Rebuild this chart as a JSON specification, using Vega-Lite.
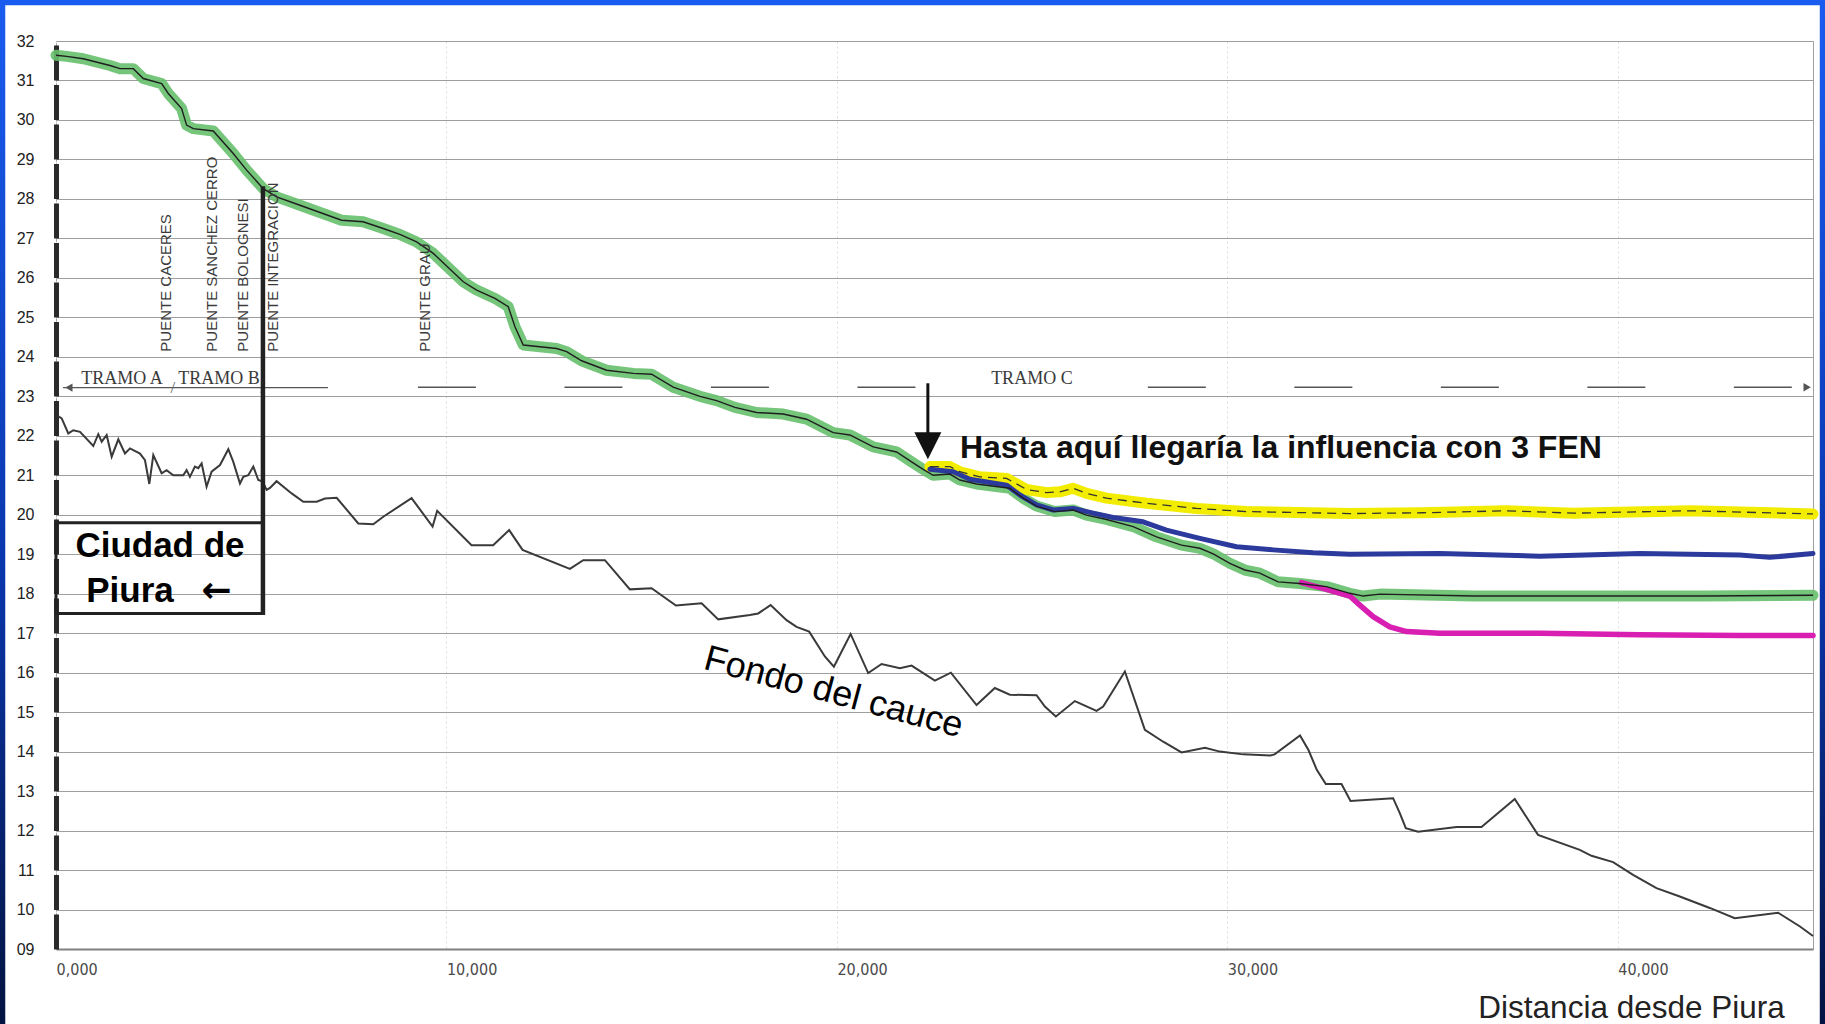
{
  "$schema": "https://vega.github.io/schema/vega-lite/v6.json",
  "width": 1757,
  "height": 908,
  "autosize": {"type": "none"},
  "padding": {"left": 56, "top": 41, "right": 12, "bottom": 75},
  "background": "white",
  "config": {
    "view": {"stroke": "#a0a0a0", "strokeWidth": 1},
    "font": "Liberation Sans"
  },
  "datasets": {
    "cauce": [
      {"x": 50, "y": 22.5}, {"x": 146, "y": 22.44}, {"x": 315, "y": 22.06}, {"x": 443, "y": 22.14},
      {"x": 615, "y": 22.1}, {"x": 955, "y": 21.74}, {"x": 1083, "y": 22.04}, {"x": 1170, "y": 21.85},
      {"x": 1298, "y": 22.02}, {"x": 1426, "y": 21.47}, {"x": 1596, "y": 21.91}, {"x": 1767, "y": 21.55},
      {"x": 1895, "y": 21.68}, {"x": 2151, "y": 21.55}, {"x": 2279, "y": 21.38}, {"x": 2390, "y": 20.78},
      {"x": 2492, "y": 21.51}, {"x": 2705, "y": 21.05}, {"x": 2833, "y": 21.13}, {"x": 3004, "y": 21.0},
      {"x": 3260, "y": 21.0}, {"x": 3345, "y": 21.13}, {"x": 3430, "y": 20.96}, {"x": 3558, "y": 21.22},
      {"x": 3644, "y": 21.18}, {"x": 3730, "y": 21.3}, {"x": 3857, "y": 20.71}, {"x": 3985, "y": 21.09},
      {"x": 4200, "y": 21.26}, {"x": 4413, "y": 21.66}, {"x": 4541, "y": 21.34}, {"x": 4712, "y": 20.79},
      {"x": 4797, "y": 20.96}, {"x": 4925, "y": 21.0}, {"x": 5053, "y": 21.22}, {"x": 5181, "y": 20.88},
      {"x": 5292, "y": 20.84}, {"x": 5395, "y": 20.63}, {"x": 5480, "y": 20.68}, {"x": 5650, "y": 20.85},
      {"x": 6036, "y": 20.54}, {"x": 6334, "y": 20.33}, {"x": 6676, "y": 20.33}, {"x": 6889, "y": 20.41},
      {"x": 7188, "y": 20.43}, {"x": 7742, "y": 19.78}, {"x": 8126, "y": 19.76}, {"x": 8382, "y": 19.95},
      {"x": 9107, "y": 20.42}, {"x": 9645, "y": 19.7}, {"x": 9763, "y": 20.1}, {"x": 10643, "y": 19.23},
      {"x": 11196, "y": 19.23}, {"x": 11606, "y": 19.61}, {"x": 11949, "y": 19.11}, {"x": 13162, "y": 18.63},
      {"x": 13503, "y": 18.85}, {"x": 14059, "y": 18.85}, {"x": 14699, "y": 18.11}, {"x": 15254, "y": 18.14},
      {"x": 15877, "y": 17.7}, {"x": 16535, "y": 17.76}, {"x": 16961, "y": 17.35}, {"x": 17772, "y": 17.46},
      {"x": 17985, "y": 17.5}, {"x": 18302, "y": 17.71}, {"x": 18711, "y": 17.33}, {"x": 18967, "y": 17.16},
      {"x": 19290, "y": 17.04}, {"x": 19692, "y": 16.41}, {"x": 19923, "y": 16.15}, {"x": 20351, "y": 16.98},
      {"x": 20802, "y": 15.99}, {"x": 21144, "y": 16.22}, {"x": 21613, "y": 16.11}, {"x": 21913, "y": 16.18},
      {"x": 22510, "y": 15.8}, {"x": 22919, "y": 16.0}, {"x": 23577, "y": 15.18}, {"x": 24045, "y": 15.61},
      {"x": 24430, "y": 15.44}, {"x": 25113, "y": 15.43}, {"x": 25327, "y": 15.14}, {"x": 25608, "y": 14.89},
      {"x": 26095, "y": 15.28}, {"x": 26650, "y": 15.03}, {"x": 26820, "y": 15.14}, {"x": 27376, "y": 16.03},
      {"x": 27888, "y": 14.55}, {"x": 28357, "y": 14.25}, {"x": 28827, "y": 13.98}, {"x": 29427, "y": 14.1},
      {"x": 29811, "y": 14.0}, {"x": 30405, "y": 13.93}, {"x": 31101, "y": 13.9}, {"x": 31210, "y": 13.93},
      {"x": 31862, "y": 14.41}, {"x": 32078, "y": 14.04}, {"x": 32291, "y": 13.54}, {"x": 32522, "y": 13.18},
      {"x": 32924, "y": 13.18}, {"x": 33155, "y": 12.75}, {"x": 34246, "y": 12.82}, {"x": 34417, "y": 12.44},
      {"x": 34571, "y": 12.06}, {"x": 34886, "y": 11.97}, {"x": 35869, "y": 12.09}, {"x": 36509, "y": 12.09},
      {"x": 37362, "y": 12.8}, {"x": 37958, "y": 11.89}, {"x": 39027, "y": 11.51}, {"x": 39327, "y": 11.36},
      {"x": 39880, "y": 11.2}, {"x": 40392, "y": 10.88}, {"x": 40991, "y": 10.54}, {"x": 41588, "y": 10.33},
      {"x": 42356, "y": 10.04}, {"x": 42996, "y": 9.78}, {"x": 44105, "y": 9.92}, {"x": 44667, "y": 9.57},
      {"x": 45000, "y": 9.33}
    ],
    "verde": [
      {"x": 0, "y": 31.64}, {"x": 273, "y": 31.61}, {"x": 700, "y": 31.55}, {"x": 1383, "y": 31.38},
      {"x": 1639, "y": 31.3}, {"x": 1980, "y": 31.3}, {"x": 2236, "y": 31.05}, {"x": 2706, "y": 30.92},
      {"x": 2876, "y": 30.67}, {"x": 3217, "y": 30.29}, {"x": 3345, "y": 29.87}, {"x": 3516, "y": 29.78},
      {"x": 4028, "y": 29.72}, {"x": 4540, "y": 29.15}, {"x": 4882, "y": 28.73}, {"x": 5308, "y": 28.26},
      {"x": 5650, "y": 28.05}, {"x": 6248, "y": 27.84}, {"x": 7315, "y": 27.46}, {"x": 7867, "y": 27.42},
      {"x": 8380, "y": 27.25}, {"x": 8809, "y": 27.1}, {"x": 9237, "y": 26.91}, {"x": 9663, "y": 26.62},
      {"x": 10431, "y": 25.9}, {"x": 10773, "y": 25.69}, {"x": 11242, "y": 25.48}, {"x": 11583, "y": 25.27},
      {"x": 11755, "y": 24.76}, {"x": 11967, "y": 24.3}, {"x": 12822, "y": 24.21}, {"x": 13078, "y": 24.13},
      {"x": 13462, "y": 23.9}, {"x": 14102, "y": 23.66}, {"x": 14785, "y": 23.58}, {"x": 15254, "y": 23.56},
      {"x": 15808, "y": 23.23}, {"x": 16492, "y": 23.0}, {"x": 16919, "y": 22.89}, {"x": 17388, "y": 22.72},
      {"x": 17943, "y": 22.59}, {"x": 18625, "y": 22.55}, {"x": 19224, "y": 22.42}, {"x": 19906, "y": 22.08},
      {"x": 20333, "y": 22.02}, {"x": 20931, "y": 21.72}, {"x": 21528, "y": 21.59}, {"x": 21913, "y": 21.34},
      {"x": 22210, "y": 21.15}, {"x": 22466, "y": 21.0}, {"x": 22893, "y": 21.03}, {"x": 23150, "y": 20.88},
      {"x": 23577, "y": 20.78}, {"x": 24430, "y": 20.67}, {"x": 24771, "y": 20.42}, {"x": 25113, "y": 20.22},
      {"x": 25582, "y": 20.08}, {"x": 26050, "y": 20.12}, {"x": 26394, "y": 19.99}, {"x": 26906, "y": 19.88},
      {"x": 27588, "y": 19.7}, {"x": 28186, "y": 19.44}, {"x": 28826, "y": 19.23}, {"x": 29296, "y": 19.15},
      {"x": 29638, "y": 19.01}, {"x": 30064, "y": 18.77}, {"x": 30448, "y": 18.6}, {"x": 30832, "y": 18.52},
      {"x": 31301, "y": 18.3}, {"x": 31857, "y": 18.26}, {"x": 32540, "y": 18.18}, {"x": 33137, "y": 18.01},
      {"x": 33478, "y": 17.94}, {"x": 33905, "y": 17.99}, {"x": 36295, "y": 17.94}, {"x": 39711, "y": 17.94},
      {"x": 42272, "y": 17.94}, {"x": 45000, "y": 17.96}
    ],
    "amarillo": [
      {"x": 22381, "y": 21.22}, {"x": 22893, "y": 21.22}, {"x": 23150, "y": 21.09}, {"x": 23662, "y": 20.96},
      {"x": 24345, "y": 20.92}, {"x": 24857, "y": 20.64}, {"x": 25369, "y": 20.56}, {"x": 25710, "y": 20.58},
      {"x": 26050, "y": 20.67}, {"x": 26394, "y": 20.54}, {"x": 26906, "y": 20.42}, {"x": 27930, "y": 20.29},
      {"x": 29210, "y": 20.16}, {"x": 30490, "y": 20.08}, {"x": 33137, "y": 20.03}, {"x": 35000, "y": 20.05},
      {"x": 37149, "y": 20.1}, {"x": 38856, "y": 20.04}, {"x": 41852, "y": 20.1}, {"x": 45000, "y": 20.02}
    ],
    "azul": [
      {"x": 22381, "y": 21.15}, {"x": 22978, "y": 21.09}, {"x": 23406, "y": 20.9}, {"x": 24345, "y": 20.75},
      {"x": 24686, "y": 20.5}, {"x": 25113, "y": 20.25}, {"x": 25540, "y": 20.12}, {"x": 26050, "y": 20.16},
      {"x": 26562, "y": 20.04}, {"x": 27074, "y": 19.93}, {"x": 27843, "y": 19.82}, {"x": 28441, "y": 19.61},
      {"x": 29296, "y": 19.4}, {"x": 30235, "y": 19.19}, {"x": 31173, "y": 19.11}, {"x": 32198, "y": 19.04},
      {"x": 33137, "y": 19.0}, {"x": 35441, "y": 19.02}, {"x": 38002, "y": 18.95}, {"x": 40563, "y": 19.02},
      {"x": 43124, "y": 18.98}, {"x": 43892, "y": 18.92}, {"x": 45000, "y": 19.02}
    ],
    "magenta": [
      {"x": 31900, "y": 18.28}, {"x": 32540, "y": 18.11}, {"x": 33137, "y": 17.94}, {"x": 33393, "y": 17.71},
      {"x": 33734, "y": 17.42}, {"x": 34161, "y": 17.16}, {"x": 34588, "y": 17.04}, {"x": 35441, "y": 17.0},
      {"x": 38002, "y": 17.0}, {"x": 40563, "y": 16.96}, {"x": 43124, "y": 16.94}, {"x": 45000, "y": 16.94}
    ],
    "puentes": [
      {"puente": "PUENTE CACERES", "x": 2809},
      {"puente": "PUENTE SANCHEZ CERRO", "x": 3987},
      {"puente": "PUENTE BOLOGNESI", "x": 4780},
      {"puente": "PUENTE INTEGRACION", "x": 5565},
      {"puente": "PUENTE GRAU", "x": 9450}
    ],
    "tramos": [
      {"tramo": "TRAMO A", "x": 1690},
      {"tramo": "TRAMO B", "x": 4174},
      {"tramo": "TRAMO C", "x": 24994}
    ]
  },
  "layer": [
    {
      "data": {"name": "cauce"},
      "mark": {"type": "line", "color": "#3a3a3a", "strokeWidth": 2},
      "encoding": {
        "x": {
          "field": "x", "type": "quantitative", "title": null,
          "scale": {"domain": [0, 45000], "nice": false, "zero": false},
          "axis": {
            "title": null,
            "values": [0, 10000, 20000, 30000, 40000],
            "tickCount": 60,
            "labelExpr": "datum.value === 0 ? '0,000' : format(datum.value, ',')",
            "labelAlign": "left", "labelFlush": false, "labelOverlap": false, "labelPadding": 12,
            "labelFontSize": 16, "labelFont": "DejaVu Sans Condensed, Liberation Sans, sans-serif", "labelColor": "#4a4a4a",
            "ticks": false, "tickSize": 0,
            "domainColor": "#808080", "domainWidth": 2,
            "grid": true, "gridColor": "#dcdcdc", "gridDash": [2, 3], "gridWidth": 1
          }
        },
        "y": {
          "field": "y", "type": "quantitative", "title": null,
          "scale": {"domain": [9, 32], "nice": false, "zero": false},
          "axis": {
            "title": null,
            "values": [9, 10, 11, 12, 13, 14, 15, 16, 17, 18, 19, 20, 21, 22, 23, 24, 25, 26, 27, 28, 29, 30, 31, 32],
            "tickCount": 60,
            "labelExpr": "datum.value < 10 ? '0' + datum.value : '' + datum.value",
            "labelOverlap": false, "labelFlush": false,
            "labelFontSize": 16, "labelFont": "Liberation Sans", "labelColor": "#222222", "labelPadding": 22,
            "ticks": false, "tickSize": 0,
            "domainColor": "#2a2a2a", "domainWidth": 5, "domainDash": [35, 4.5],
            "grid": true, "gridColor": "#9e9e9e", "gridWidth": 1.2
          }
        }
      }
    },
    {
      "data": {"name": "verde"},
      "mark": {"type": "line", "color": "#66bf6c", "opacity": 0.9, "strokeWidth": 11, "strokeCap": "round", "strokeJoin": "round"},
      "encoding": {
        "x": {"field": "x", "type": "quantitative", "title": null},
        "y": {"field": "y", "type": "quantitative", "title": null}
      }
    },
    {
      "data": {"name": "amarillo"},
      "mark": {"type": "line", "color": "#f2ec00", "strokeWidth": 11, "strokeCap": "round", "strokeJoin": "round"},
      "encoding": {
        "x": {"field": "x", "type": "quantitative", "title": null},
        "y": {"field": "y", "type": "quantitative", "title": null}
      }
    },
    {
      "data": {"name": "azul"},
      "mark": {"type": "line", "color": "#2b3a9c", "strokeWidth": 5, "strokeCap": "round", "strokeJoin": "round"},
      "encoding": {
        "x": {"field": "x", "type": "quantitative", "title": null},
        "y": {"field": "y", "type": "quantitative", "title": null}
      }
    },
    {
      "data": {"name": "magenta"},
      "mark": {"type": "line", "color": "#d81fb2", "strokeWidth": 5.5, "strokeCap": "round", "strokeJoin": "round"},
      "encoding": {
        "x": {"field": "x", "type": "quantitative", "title": null},
        "y": {"field": "y", "type": "quantitative", "title": null}
      }
    },
    {
      "data": {"name": "verde"},
      "mark": {"type": "line", "color": "#1e1e1e", "strokeWidth": 1.4},
      "encoding": {
        "x": {"field": "x", "type": "quantitative", "title": null},
        "y": {"field": "y", "type": "quantitative", "title": null}
      }
    },
    {
      "data": {"name": "amarillo"},
      "mark": {"type": "line", "color": "#333333", "strokeWidth": 1.3, "strokeDash": [9, 6]},
      "encoding": {
        "x": {"field": "x", "type": "quantitative", "title": null},
        "y": {"field": "y", "type": "quantitative", "title": null}
      }
    },
    {
      "data": {"name": "puentes"},
      "mark": {"type": "text", "angle": 270, "align": "left", "baseline": "middle", "fontSize": 15, "color": "#3a3a3a"},
      "encoding": {
        "x": {"field": "x", "type": "quantitative", "title": null},
        "y": {"datum": 24.13, "type": "quantitative"},
        "text": {"field": "puente"}
      }
    },
    {
      "data": {"name": "tramos"},
      "mark": {"type": "text", "align": "center", "baseline": "alphabetic", "font": "Liberation Serif", "fontSize": 18, "color": "#3a3a3a"},
      "encoding": {
        "x": {"field": "x", "type": "quantitative", "title": null},
        "y": {"datum": 23.3, "type": "quantitative"},
        "text": {"field": "tramo"}
      }
    },
    {
      "data": {"values": [{}]},
      "mark": {"type": "rule", "color": "#555555", "strokeWidth": 1.4},
      "encoding": {
        "x": {"datum": 180, "type": "quantitative"},
        "x2": {"datum": 6965},
        "y": {"datum": 23.22, "type": "quantitative"}
      }
    },
    {
      "data": {"values": [{}]},
      "mark": {"type": "point", "shape": "triangle-left", "filled": true, "size": 70, "color": "#555555", "opacity": 1},
      "encoding": {
        "x": {"datum": 330, "type": "quantitative"},
        "y": {"datum": 23.22, "type": "quantitative"}
      }
    },
    {
      "data": {"values": [{"x": 2996}, {"x": 5300}]},
      "mark": {"type": "text", "align": "center", "baseline": "middle", "font": "Liberation Serif", "fontSize": 17, "color": "#666666", "text": "/"},
      "encoding": {
        "x": {"field": "x", "type": "quantitative", "title": null},
        "y": {"datum": 23.2, "type": "quantitative"}
      }
    },
    {
      "data": {"values": [{}]},
      "mark": {"type": "rule", "color": "#555555", "strokeWidth": 1.5, "strokeDash": [58, 88.5]},
      "encoding": {
        "x": {"datum": 9270, "type": "quantitative"},
        "x2": {"datum": 22023},
        "y": {"datum": 23.23, "type": "quantitative"}
      }
    },
    {
      "data": {"values": [{}]},
      "mark": {"type": "rule", "color": "#555555", "strokeWidth": 1.5, "strokeDash": [58, 88.5]},
      "encoding": {
        "x": {"datum": 27964, "type": "quantitative"},
        "x2": {"datum": 44942},
        "y": {"datum": 23.23, "type": "quantitative"}
      }
    },
    {
      "data": {"values": [{}]},
      "mark": {"type": "point", "shape": "triangle-right", "filled": true, "size": 70, "color": "#555555", "opacity": 1},
      "encoding": {
        "x": {"datum": 44850, "type": "quantitative"},
        "y": {"datum": 23.23, "type": "quantitative"}
      }
    },
    {
      "data": {"values": [{}]},
      "mark": {"type": "rect", "filled": false, "stroke": "#222222", "strokeWidth": 3},
      "encoding": {
        "x": {"datum": 0, "type": "quantitative"},
        "x2": {"datum": 5300},
        "y": {"datum": 17.5, "type": "quantitative"},
        "y2": {"datum": 19.8}
      }
    },
    {
      "data": {"values": [{}]},
      "mark": {"type": "rule", "color": "#222222", "strokeWidth": 4.5},
      "encoding": {
        "x": {"datum": 5300, "type": "quantitative"},
        "y": {"datum": 17.46, "type": "quantitative"},
        "y2": {"datum": 28.32}
      }
    },
    {
      "data": {"values": [{}]},
      "mark": {"type": "text", "align": "center", "baseline": "alphabetic", "fontSize": 35, "fontWeight": "bold", "color": "#000000", "text": "Ciudad de"},
      "encoding": {
        "x": {"datum": 2663, "type": "quantitative"},
        "y": {"datum": 18.94, "type": "quantitative"}
      }
    },
    {
      "data": {"values": [{}]},
      "mark": {"type": "text", "align": "center", "baseline": "alphabetic", "fontSize": 35, "fontWeight": "bold", "color": "#000000", "text": "Piura"},
      "encoding": {
        "x": {"datum": 1895, "type": "quantitative"},
        "y": {"datum": 17.8, "type": "quantitative"}
      }
    },
    {
      "data": {"values": [{}]},
      "mark": {"type": "text", "align": "center", "baseline": "alphabetic", "font": "DejaVu Sans", "fontSize": 36, "fontWeight": "bold", "color": "#000000", "text": "←"},
      "encoding": {
        "x": {"datum": 4115, "type": "quantitative"},
        "y": {"datum": 17.8, "type": "quantitative"}
      }
    },
    {
      "data": {"values": [{}]},
      "mark": {"type": "rule", "color": "#111111", "strokeWidth": 3},
      "encoding": {
        "x": {"datum": 22330, "type": "quantitative"},
        "y": {"datum": 23.33, "type": "quantitative"},
        "y2": {"datum": 21.95}
      }
    },
    {
      "data": {"values": [{}]},
      "mark": {"type": "point", "shape": "M-1,-1L1,-1L0,1Z", "filled": true, "size": 729, "color": "#111111", "opacity": 1},
      "encoding": {
        "x": {"datum": 22330, "type": "quantitative"},
        "y": {"datum": 21.75, "type": "quantitative"}
      }
    },
    {
      "data": {"values": [{}]},
      "mark": {"type": "text", "align": "left", "baseline": "alphabetic", "fontSize": 32, "fontWeight": "bold", "color": "#111111", "text": "Hasta aquí llegaría la influencia con 3 FEN"},
      "encoding": {
        "x": {"datum": 23150, "type": "quantitative"},
        "y": {"datum": 21.43, "type": "quantitative"}
      }
    },
    {
      "data": {"values": [{}]},
      "mark": {"type": "text", "align": "center", "baseline": "alphabetic", "fontSize": 36, "angle": 15, "color": "#000000", "text": "Fondo del cauce"},
      "encoding": {
        "x": {"datum": 19846, "type": "quantitative"},
        "y": {"datum": 15.23, "type": "quantitative"}
      }
    },
    {
      "data": {"values": [{}]},
      "mark": {"type": "text", "align": "right", "baseline": "alphabetic", "fontSize": 31.5, "color": "#222222", "text": "Distancia desde Piura"},
      "encoding": {
        "x": {"datum": 44277, "type": "quantitative"},
        "y": {"datum": 7.26, "type": "quantitative"}
      }
    },
    {
      "data": {"values": [{}]},
      "mark": {
        "type": "rect", "filled": false, "strokeWidth": 10.5,
        "stroke": {
          "gradient": "linear", "x1": 0, "y1": 0, "x2": 0, "y2": 1,
          "stops": [
            {"offset": 0, "color": "#1a5cf0"},
            {"offset": 0.55, "color": "#0a36ad"},
            {"offset": 1, "color": "#03123d"}
          ]
        }
      },
      "encoding": {
        "x": {"datum": -1434, "type": "quantitative"},
        "x2": {"datum": 45308},
        "y": {"datum": 33.04, "type": "quantitative"},
        "y2": {"datum": 6.69}
      }
    }
  ]
}
